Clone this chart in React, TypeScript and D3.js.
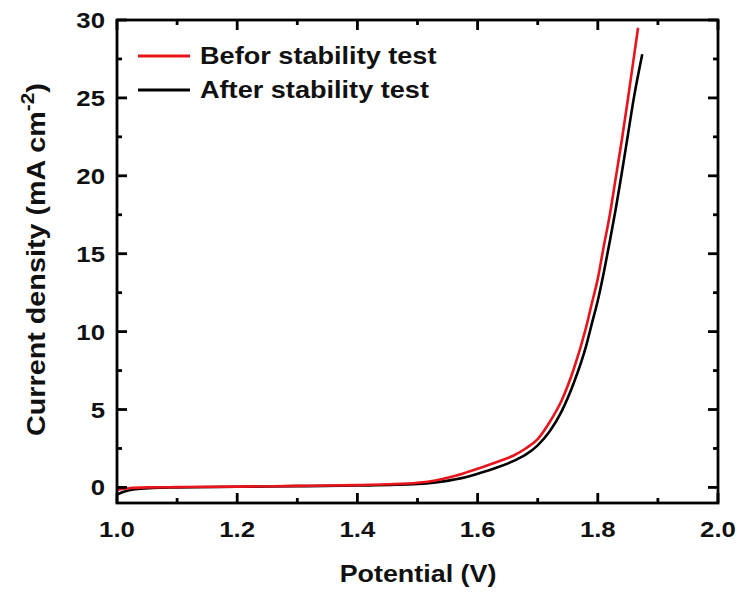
import React from "react";
import * as d3 from "d3";

const vBefore = [1.0, 1.02, 1.05, 1.1, 1.2, 1.3, 1.4, 1.45, 1.5, 1.53, 1.56, 1.58, 1.6, 1.63, 1.66, 1.68, 1.7, 1.72, 1.74, 1.76, 1.78, 1.79, 1.8, 1.81, 1.82, 1.83, 1.84, 1.85, 1.86, 1.867];
const jBefore = [-0.15, -0.05, 0.0, 0.02, 0.05, 0.1, 0.15, 0.2, 0.3, 0.45, 0.72, 0.95, 1.2, 1.6, 2.05, 2.5, 3.1, 4.2, 5.6, 7.6, 10.2, 11.8, 13.4, 15.5, 17.5, 19.9, 22.3, 24.9, 27.6, 29.5];

const vAfter = [1.0, 1.01, 1.03, 1.06, 1.1, 1.2, 1.3, 1.4, 1.5, 1.53, 1.56, 1.58, 1.6, 1.63, 1.66, 1.68, 1.7, 1.72, 1.74, 1.76, 1.78, 1.79, 1.8, 1.81, 1.82, 1.83, 1.84, 1.85, 1.86, 1.874];
const jAfter = [-0.45, -0.3, -0.12, -0.04, 0.0, 0.04, 0.08, 0.12, 0.22, 0.32, 0.5, 0.65, 0.88, 1.25, 1.7, 2.1, 2.7, 3.6, 4.9, 6.7, 9.0, 10.5, 12.0, 13.8, 15.8, 17.9, 20.2, 22.6, 25.0, 27.8];

const xMajor = [1.0, 1.2, 1.4, 1.6, 1.8, 2.0];
const xMinor = [1.1, 1.3, 1.5, 1.7, 1.9];
const yMajor = [0, 5, 10, 15, 20, 25, 30];
const yMinor = [2.5, 7.5, 12.5, 17.5, 22.5, 27.5];

const seriesNames = ["Befor stability test", "After stability test"];
const seriesColors = ["#e8141c", "#000000"];

const L = 117, R = 718, T = 20, B = 503;
const FONT = "'Liberation Sans', Arial, Helvetica, sans-serif";

export default function App() {
  const x = d3.scaleLinear().domain([1.0, 2.0]).range([L, R]);
  const y = d3.scaleLinear().domain([-1, 30]).range([B, T]);
  const line = d3
    .line<[number, number]>()
    .x((d) => x(d[0]))
    .y((d) => y(d[1]))
    .curve(d3.curveMonotoneX);
  const before: [number, number][] = vBefore.map((v, i) => [v, jBefore[i]]);
  const after: [number, number][] = vAfter.map((v, i) => [v, jAfter[i]]);
  const major = 10, minor = 5;
  const sw = 2.8;

  return (
    <svg width={741} height={596} style={{ position: "absolute", left: 0, top: 0, background: "#fff" }} fontFamily={FONT} fontWeight="bold">
      <rect x={0} y={0} width={741} height={596} fill="#fff" />
      <path d={line(after) || ""} fill="none" stroke={seriesColors[1]} strokeWidth={2.6} />
      <path d={line(before) || ""} fill="none" stroke={seriesColors[0]} strokeWidth={2.6} />

      {/* frame */}
      <rect x={L} y={T} width={R - L} height={B - T} fill="none" stroke="#000" strokeWidth={sw} />

      {/* x ticks */}
      {xMajor.map((v) => (
        <g key={"xM" + v}>
          <line x1={x(v)} x2={x(v)} y1={B} y2={B - major} stroke="#000" strokeWidth={sw} />
          <line x1={x(v)} x2={x(v)} y1={T} y2={T + major} stroke="#000" strokeWidth={sw} />
          <text transform={`translate(${x(v)},537) scale(1.12,1)`} textAnchor="middle" fontSize={23} fill="#111">
            {v.toFixed(1)}
          </text>
        </g>
      ))}
      {xMinor.map((v) => (
        <g key={"xm" + v}>
          <line x1={x(v)} x2={x(v)} y1={B} y2={B - minor} stroke="#000" strokeWidth={sw} />
          <line x1={x(v)} x2={x(v)} y1={T} y2={T + minor} stroke="#000" strokeWidth={sw} />
        </g>
      ))}

      {/* y ticks */}
      {yMajor.map((v) => (
        <g key={"yM" + v}>
          <line x1={L} x2={L + major} y1={y(v)} y2={y(v)} stroke="#000" strokeWidth={sw} />
          <line x1={R} x2={R - major} y1={y(v)} y2={y(v)} stroke="#000" strokeWidth={sw} />
          <text transform={`translate(105,${y(v) + 8}) scale(1.12,1)`} textAnchor="end" fontSize={23} fill="#111">
            {v}
          </text>
        </g>
      ))}
      {yMinor.map((v) => (
        <g key={"ym" + v}>
          <line x1={L} x2={L + minor} y1={y(v)} y2={y(v)} stroke="#000" strokeWidth={sw} />
          <line x1={R} x2={R - minor} y1={y(v)} y2={y(v)} stroke="#000" strokeWidth={sw} />
        </g>
      ))}

      {/* axis titles */}
      <text transform={`translate(418,582) scale(1.12,1)`} textAnchor="middle" fontSize={24} fill="#111">
        Potential (V)
      </text>
      <text transform={`translate(45,436) rotate(-90) scale(1.15,1)`} textAnchor="start" fontSize={25} fill="#111">
        Current density (mA cm
        <tspan fontSize={18} dy={-11}>-2</tspan>
        <tspan dy={11}>)</tspan>
      </text>

      {/* legend */}
      {seriesNames.map((name, i) => (
        <g key={name}>
          <line x1={138} x2={190} y1={56 + i * 34} y2={56 + i * 34} stroke={seriesColors[i]} strokeWidth={3} />
          <text transform={`translate(200,${64 + i * 34}) scale(1.13,1)`} fontSize={24} fill="#111">
            {name}
          </text>
        </g>
      ))}
    </svg>
  );
}
